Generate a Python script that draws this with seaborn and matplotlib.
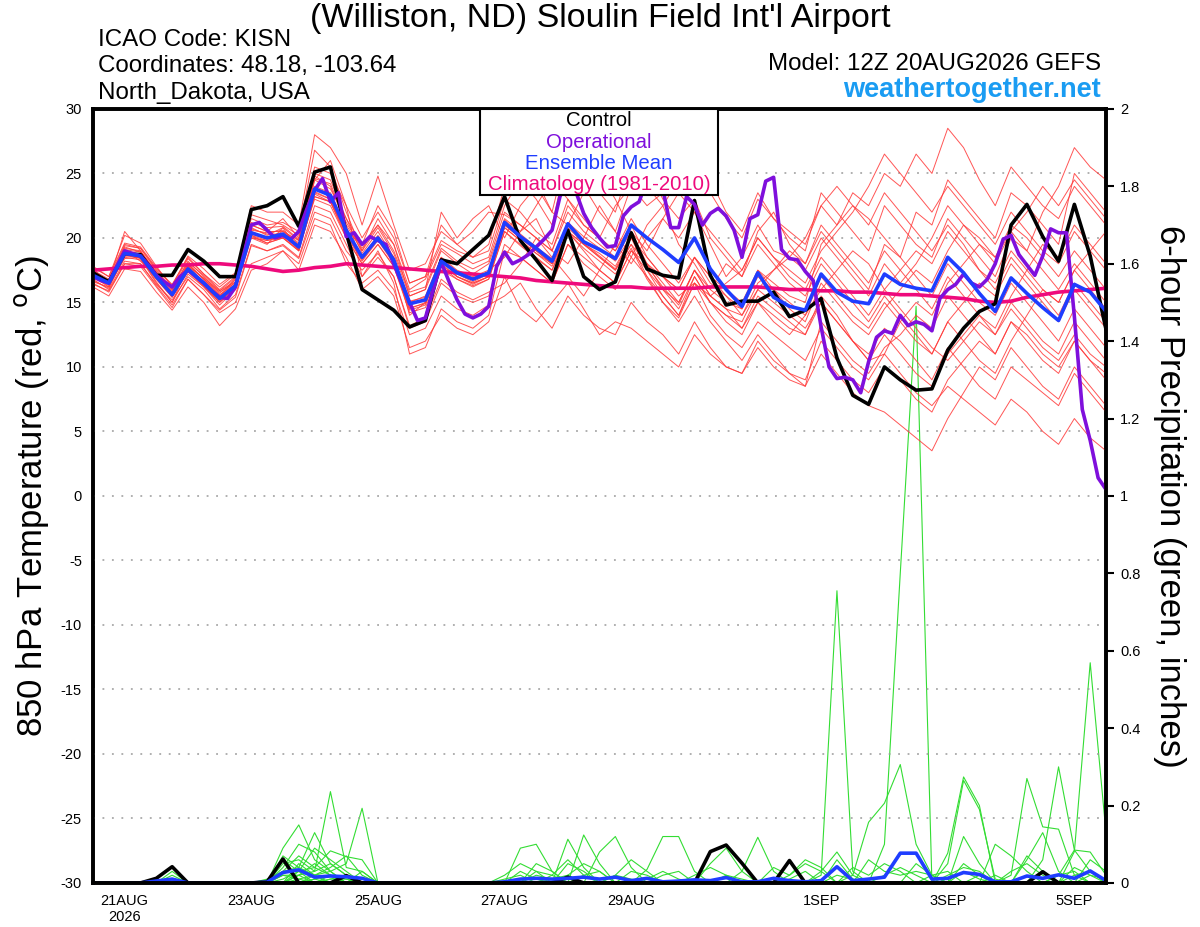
import numpy as np
import pandas as pd
import matplotlib
matplotlib.use("Agg")
import matplotlib.pyplot as plt
import matplotlib.dates as mdates
from matplotlib.patches import Rectangle
import seaborn as sns

# ---------------- data ----------------
run_start = "2026-08-20 12:00"
tick_dates = ["2026-08-21", "2026-08-23", "2026-08-25", "2026-08-27",
              "2026-08-29", "2026-09-01", "2026-09-03", "2026-09-05"]
tick_labels = ["21AUG\n2026", "23AUG", "25AUG", "27AUG", "29AUG", "1SEP", "3SEP", "5SEP"]

control_temp = [17.3, 16.6, 18.8, 18.7, 17.1, 17.1, 19.1, 18.2, 17.0, 17.0, 22.2, 22.5, 23.2,
                20.9, 25.1, 25.5, 20.4, 16.0, 15.2, 14.4, 13.1, 13.6, 18.3, 18.0, 19.1, 20.2,
                23.2, 19.8, 18.3, 16.7, 20.6, 17.0, 16.0, 16.6, 20.4, 17.6, 17.1, 16.9, 22.9,
                17.1, 14.8, 15.1, 15.1, 15.8, 13.9, 14.4, 15.3, 10.7, 7.8, 7.1, 10.0, 9.0,
                8.2, 8.3, 11.3, 13.0, 14.3, 14.9, 21.0, 22.6, 20.1, 18.2, 22.6, 18.6, 12.9]

mean_temp = [17.1, 16.5, 18.8, 18.6, 17.0, 15.6, 17.6, 16.5, 15.3, 16.3, 20.4, 20.0, 20.3,
             19.3, 23.8, 23.3, 20.6, 18.5, 20.0, 18.3, 14.9, 15.2, 18.2, 17.3, 16.8, 17.3,
             21.2, 20.1, 19.2, 18.2, 21.1, 19.7, 19.1, 18.4, 21.0, 20.0, 19.1, 18.1, 20.0,
             17.6, 16.0, 14.7, 17.3, 15.4, 14.7, 14.4, 17.2, 15.8, 15.1, 14.9, 17.2, 16.4,
             16.1, 15.9, 18.5, 17.3, 15.7, 14.3, 16.9, 15.7, 14.6, 13.6, 16.4, 15.8, 14.3]

clim_temp = [17.5, 17.6, 17.7, 17.8, 17.8, 17.9, 17.9, 18.0, 18.0, 17.9, 17.8, 17.6, 17.4,
             17.5, 17.7, 17.8, 18.0, 17.9, 17.8, 17.7, 17.6, 17.5, 17.4, 17.3, 17.2, 17.1,
             17.0, 16.9, 16.7, 16.6, 16.5, 16.4, 16.3, 16.2, 16.2, 16.1, 16.1, 16.1, 16.1,
             16.2, 16.2, 16.2, 16.2, 16.1, 16.0, 16.0, 15.9, 15.9, 15.8, 15.8, 15.7, 15.6,
             15.6, 15.5, 15.4, 15.3, 15.1, 15.0, 15.1, 15.4, 15.6, 15.8, 15.9, 16.0, 16.1]

# operational run, 3-hourly
oper_temp = [17.0, 16.7, 16.5, 17.8, 19.0, 18.8, 18.6, 17.9, 17.1, 16.6, 16.2, 17.0, 17.5,
             17.0, 16.5, 15.9, 15.4, 15.3, 16.2, 18.6, 21.0, 21.2, 20.6, 20.0, 20.2, 19.9,
             20.5, 22.2, 23.7, 24.6, 22.8, 23.5, 20.1, 20.4, 19.5, 20.1, 19.8, 19.5, 18.0,
             16.5, 15.0, 13.6, 13.8, 16.0, 18.1, 16.6, 15.2, 14.1, 13.8, 14.1, 14.7, 17.8,
             18.9, 18.0, 18.3, 18.7, 19.3, 19.9, 20.6, 23.2, 24.5, 23.6, 21.9, 20.8, 20.0,
             19.3, 19.4, 21.7, 22.4, 22.8, 24.5, 25.0, 23.8, 20.8, 20.8, 23.2, 22.6, 21.0,
             21.9, 22.3, 21.7, 20.6, 18.5, 21.5, 21.8, 24.4, 24.7, 19.1, 18.4, 18.3, 17.4,
             16.7, 13.1, 10.0, 9.1, 9.2, 9.0, 8.0, 10.4, 12.3, 12.8, 12.6, 14.0, 13.2,
             13.5, 13.3, 12.8, 15.3, 16.0, 16.4, 17.2, 16.5, 16.2, 16.8, 18.0, 19.9, 20.2,
             18.7, 17.9, 17.1, 18.6, 20.7, 20.4, 20.4, 13.9, 6.7, 4.3, 1.4, 0.5]

member_temps = [
    [17.5,16.8,19.5,19.2,17.6,16.4,18.5,17.2,16.0,17.0,
     21.5,21.0,21.2,20.5,26.8,25.5,22.0,19.0,21.5,19.5,16.0,16.8,19.5,18.8,18.0,18.5,
     22.5,24.5,23.0,21.0,26.5,24.0,22.0,20.5,24.0,25.5,23.0,21.5,23.0,20.0,18.5,17.0,20.5,22.0,19.5,18.0,
     20.5,19.0,17.5,16.0,19.5,18.5,22.0,21.0,24.5,23.0,21.5,20.0,23.5,22.5,21.0,19.5,25.0,23.5,22.0],
    [16.5,15.8,18.0,17.8,16.2,14.6,16.8,15.6,14.2,15.0,
     18.0,18.5,19.0,18.0,21.5,21.0,18.0,16.5,17.5,16.0,12.5,13.0,15.5,14.5,14.0,14.8,
     15.5,16.5,14.5,13.0,15.5,14.0,13.0,12.5,15.0,13.5,12.5,11.0,13.5,11.5,10.0,9.5,12.0,10.5,9.5,9.0,
     12.0,10.5,9.0,8.0,10.0,9.0,7.5,6.5,9.0,10.5,12.0,11.0,13.5,12.5,11.0,10.0,12.0,10.5,9.5],
    [17.0,16.2,19.0,18.4,16.5,15.0,17.8,16.6,15.5,16.8,
     20.0,19.5,20.8,19.0,24.5,23.8,21.5,18.8,20.5,18.5,14.0,15.0,18.5,17.0,16.5,17.0,
     21.0,20.0,19.0,18.0,20.5,19.0,17.5,16.5,19.0,17.5,16.0,15.0,17.5,15.5,14.5,13.0,15.0,14.0,13.0,12.5,
     15.5,14.0,12.0,10.5,11.0,13.5,15.0,14.0,16.5,18.0,19.5,18.5,21.0,20.0,18.5,17.0,19.0,17.5,16.0],
    [17.8,17.0,20.2,19.6,17.8,16.2,18.4,17.2,16.2,17.2,
     22.5,22.0,22.0,21.0,28.0,27.0,25.0,21.0,24.8,21.0,17.5,18.0,20.5,19.5,18.5,19.5,
     24.0,26.0,24.5,22.0,27.0,25.5,23.5,22.0,26.0,24.0,22.5,24.5,27.0,24.5,22.0,20.5,23.5,21.5,20.0,19.0,
     23.5,22.0,20.5,19.0,22.5,21.0,19.5,18.5,21.5,20.0,18.5,17.0,20.0,19.0,22.0,24.0,27.0,25.5,24.5],
    [16.8,16.0,18.2,18.0,16.4,15.2,17.0,16.0,14.5,15.6,
     19.5,19.0,19.5,18.5,22.5,22.0,19.5,17.0,18.5,17.0,13.0,13.5,16.5,15.5,15.0,15.5,
     19.5,18.5,17.5,16.5,19.5,18.0,17.0,16.0,18.5,17.0,15.5,14.0,17.0,15.0,14.0,13.5,16.0,15.0,14.0,13.0,
     15.0,13.5,12.0,11.0,13.0,12.0,10.5,9.0,11.5,10.0,8.5,7.5,10.0,9.0,8.0,7.0,9.5,8.0,6.5],
    [17.2,16.6,20.5,19.0,17.2,15.8,18.0,16.8,15.8,16.5,
     21.0,20.5,21.5,20.0,25.0,24.5,21.5,19.5,21.0,19.5,15.5,16.0,22.0,20.0,21.5,22.5,
     20.0,22.5,24.0,22.0,21.0,23.5,25.0,23.0,20.5,19.0,21.5,23.5,22.0,19.5,17.0,18.5,21.0,19.0,18.5,20.0,
     22.5,24.0,22.5,21.0,23.5,22.0,20.5,19.0,21.0,19.5,17.5,16.0,18.5,17.0,15.5,14.0,16.5,15.0,13.5],
    [16.2,15.5,17.6,17.4,15.8,14.4,16.2,15.0,13.2,14.5,
     17.5,18.0,19.0,17.5,21.0,20.5,18.5,16.0,17.0,15.5,11.5,12.0,14.0,13.0,12.5,13.5,
     17.0,14.5,13.5,15.0,16.5,14.5,12.5,13.5,13.0,12.0,11.0,10.0,12.5,11.0,10.0,9.5,11.5,10.0,9.0,8.5,
     13.5,12.0,10.5,9.5,11.5,12.5,14.0,13.0,15.5,14.0,12.5,11.0,13.5,12.0,10.5,9.5,12.0,10.5,9.0],
    [17.4,16.7,19.2,19.0,17.4,16.0,18.2,17.0,15.7,16.8,
     21.0,20.5,20.5,19.8,24.8,24.0,21.0,19.0,20.8,18.8,15.5,16.0,19.0,18.0,17.2,18.0,
     21.5,20.5,22.5,24.5,23.0,21.0,20.0,22.5,24.0,22.5,23.5,25.5,26.0,23.5,21.5,20.0,23.0,21.5,20.5,19.5,
     22.5,21.0,23.5,22.5,25.0,24.0,26.5,25.0,28.5,27.0,24.5,22.5,25.5,24.0,22.5,21.5,24.0,22.5,21.0],
    [16.6,16.2,18.5,18.3,16.8,15.4,17.4,16.3,15.0,16.0,
     20.0,19.8,20.2,19.2,23.0,22.5,20.0,18.0,19.5,17.8,14.2,14.6,17.5,16.8,16.2,16.8,
     20.5,19.5,18.5,17.5,20.5,19.5,18.5,17.5,19.5,18.0,16.5,15.0,17.5,16.0,18.0,17.0,19.5,18.0,16.5,15.5,
     18.0,16.5,15.0,13.5,15.5,14.0,12.5,11.0,13.5,15.0,16.5,15.5,18.0,16.5,15.0,13.5,16.0,14.5,13.0],
    [17.0,16.4,18.6,18.8,17.0,15.6,17.6,16.4,15.2,16.2,
     20.2,19.8,20.0,19.0,23.2,22.8,20.2,18.2,19.8,18.0,14.5,15.0,18.0,17.0,16.5,17.0,
     21.0,20.0,19.0,18.0,21.0,19.5,18.5,17.5,19.5,17.0,15.0,13.5,15.5,13.5,12.0,10.5,12.5,11.0,9.5,8.5,
     11.0,9.5,8.0,7.0,6.5,5.5,4.5,3.5,6.0,8.0,10.0,9.0,11.5,10.0,8.5,7.5,10.0,8.5,7.0],
    [17.6,16.5,19.0,18.2,17.0,15.8,18.0,16.8,15.6,16.4,
     20.8,20.2,20.8,19.8,24.0,23.5,20.8,18.5,20.2,18.5,15.0,15.5,18.5,17.5,17.0,17.5,
     18.5,20.5,21.5,19.0,18.0,20.0,22.5,20.5,18.5,21.0,22.5,19.5,18.0,16.0,15.0,14.5,17.5,16.5,15.5,15.0,
     19.5,21.0,22.5,21.5,20.0,18.5,17.0,15.5,18.0,16.5,15.0,14.0,16.5,15.0,13.5,12.0,14.5,13.0,11.5],
    [16.9,16.3,18.4,18.5,16.6,15.0,17.2,16.2,14.8,16.0,
     20.5,20.0,20.5,19.5,24.5,26.0,22.5,17.0,19.0,16.5,11.0,11.5,14.5,13.5,13.0,14.0,
     19.0,18.5,17.5,16.5,19.5,18.5,17.5,16.5,19.0,18.0,17.0,16.0,18.5,17.0,16.0,15.0,17.5,16.0,14.5,13.5,
     16.5,15.0,13.5,12.5,14.5,16.0,17.5,16.5,19.0,21.0,20.0,18.5,20.5,19.0,17.5,16.0,18.0,16.5,15.0],
    [17.3,16.6,19.3,18.9,17.3,16.0,17.8,16.9,15.9,16.6,
     20.6,20.4,20.6,19.6,23.5,23.0,20.5,19.5,22.5,20.5,16.5,17.0,21.0,19.5,20.5,22.0,
     21.8,21.0,20.0,19.0,22.0,20.5,19.5,18.5,20.5,18.0,16.0,14.5,17.0,15.0,14.0,13.0,15.5,14.5,13.5,12.5,
     15.0,13.5,12.0,10.5,12.5,11.0,9.5,8.5,11.0,12.5,14.0,13.0,15.5,17.5,19.5,18.5,21.0,19.5,18.0],
    [16.4,15.9,18.0,18.0,16.3,14.8,16.8,15.6,14.4,15.4,
     19.4,19.0,19.4,18.4,22.0,21.5,19.0,17.5,18.8,17.0,13.2,13.8,16.8,15.8,15.2,15.8,
     16.5,18.0,20.0,18.5,17.0,15.5,17.5,19.5,18.0,20.0,21.5,20.0,22.0,20.5,19.0,17.5,20.0,18.5,17.0,16.0,
     18.5,17.0,15.5,14.0,16.0,17.5,19.0,18.0,20.5,19.0,17.5,16.5,19.0,17.5,16.0,15.0,17.5,19.0,20.5],
    [17.7,17.0,19.6,19.3,17.7,16.3,18.6,17.6,16.4,17.3,
     21.8,21.4,21.0,20.2,25.5,25.0,22.5,20.0,22.0,20.0,16.5,17.0,19.8,19.0,18.5,19.0,
     23.0,22.0,20.5,19.5,23.0,21.5,20.0,19.0,21.5,19.5,18.0,16.5,18.5,17.0,15.5,14.0,16.0,17.5,19.0,18.0,
     21.0,19.5,18.0,16.5,19.0,17.5,16.0,14.5,17.0,15.5,14.0,12.5,15.0,13.5,12.0,11.0,13.5,12.0,10.5],
    [16.7,16.1,18.7,18.4,16.9,15.5,17.5,16.3,15.1,16.1,
     20.1,19.6,20.0,19.1,23.4,22.8,20.4,18.4,20.0,18.2,14.8,15.2,18.2,17.2,16.6,17.2,
     20.8,19.8,18.8,18.0,20.8,19.6,18.6,17.6,20.0,18.5,17.0,15.5,16.5,14.0,12.5,11.5,13.5,12.5,11.5,10.5,
     13.0,11.5,10.0,9.0,11.0,9.5,8.0,7.0,8.5,7.5,6.5,5.5,7.5,6.5,5.0,4.0,6.0,4.5,3.5],
    [17.1,16.4,18.9,18.7,17.1,15.7,17.7,16.6,15.4,16.4,
     20.3,19.9,20.1,19.2,23.6,23.0,20.3,18.3,19.9,18.1,14.6,14.9,17.9,17.0,16.4,17.0,
     20.8,19.8,18.8,17.8,20.5,19.5,18.8,17.8,20.0,17.5,15.5,14.0,16.5,15.5,16.5,17.5,20.0,18.5,17.5,16.5,
     19.0,20.5,22.0,24.0,26.5,25.0,23.5,22.0,24.0,22.5,21.0,19.5,22.0,20.5,19.0,18.0,20.5,19.0,17.5],
    [16.9,16.5,19.1,18.9,17.2,15.9,17.9,16.8,15.5,16.6,
     20.7,20.3,20.3,19.3,23.9,23.4,20.6,18.6,20.1,18.4,15.1,15.4,18.4,17.4,16.9,17.4,
     21.4,20.3,19.3,18.4,21.2,20.1,19.2,18.2,20.1,17.8,16.2,14.8,17.5,15.5,14.5,14.0,16.5,17.5,18.5,17.5,
     20.0,18.5,17.0,15.5,18.0,16.5,18.0,20.0,22.5,21.0,19.5,18.0,20.5,22.0,24.0,22.5,24.5,23.0,21.5],
    [17.4,16.6,18.6,18.5,16.8,15.4,17.4,16.2,15.0,16.2,
     20.2,19.6,20.0,19.0,23.2,22.8,20.0,18.0,19.5,17.8,14.4,14.8,17.8,16.8,16.3,16.8,
     20.5,19.4,18.4,17.5,20.4,19.2,18.2,17.2,19.2,16.8,15.0,13.8,16.5,15.0,13.5,12.5,15.0,13.5,12.5,14.0,
     16.0,17.5,19.0,18.0,16.0,14.5,13.0,11.5,10.5,12.0,13.5,12.5,14.5,13.0,11.5,10.5,12.5,11.0,10.0],
    [17.0,16.5,19.4,19.2,17.5,16.1,18.1,17.1,15.9,16.9,
     21.2,20.8,20.9,19.9,24.6,24.2,21.2,19.2,21.0,19.0,15.8,16.2,19.2,18.2,17.6,18.2,
     22.0,21.0,20.0,19.0,22.5,21.0,20.0,19.0,21.0,18.5,17.0,16.0,18.5,16.5,15.5,14.5,17.0,16.0,15.0,14.0,
     17.0,15.5,14.0,13.0,15.0,13.5,12.0,11.0,13.5,12.0,10.5,9.5,12.0,14.0,16.0,15.0,17.5,16.0,14.5],
]

control_precip = [0, 0, 0, 0, .012, .042, 0, 0, 0, 0, 0, .003, .062,
                  0, 0, 0, .019, 0, 0, 0, 0, 0, 0, 0, 0, 0,
                  0, 0, 0, 0, .015, 0, 0, 0, 0, 0, 0, 0, 0,
                  .081, .098, .051, 0, 0, .058, 0, 0, 0, 0, 0, 0, 0,
                  0, 0, 0, 0, 0, 0, 0, 0, .029, 0, 0, 0, 0]

mean_precip = [0, 0, 0, 0, .005, .01, 0, 0, 0, 0, 0, .002, .027,
               .034, .015, .018, .016, .012, 0, 0, 0, 0, 0, 0, 0, 0,
               .003, .01, .012, .01, .012, .015, .01, .015, .006, .012, .003, .005, .008,
               .006, .014, .003, .003, .012, .006, .003, .006, .042, .006, .01, .015, .077,
               .077, .01, .012, .027, .022, .003, .003, .018, .012, .021, .012, .031, .006]

member_precip = [
    [0,0,0,0,0,.03,0,0,0,0,0,0,.09,  .15,.06,.03,0,0,0,0,0,0,0,0,0,0,
     0,0,.05,.03,0,0,0,0,0,0,0,0,0,  0,0,0,0,0,0,0,.02,.755,.03,0,0,0,
     0,0,0,.05,.02,0,0,0,0,0,.02,.03,0],
    [0,0,0,0,0,.02,0,0,0,0,0,0,.07,  .04,.13,.05,.02,0,0,0,0,0,0,0,0,0,
     0,.09,.10,.03,0,0,0,0,0,0,0,0,0,  0,0,0,0,0,0,0,0,0,0,0,.10,.80,
     1.49,0,0,0,0,0,.02,.27,.145,.139,.02,0,0],
    [0,0,0,0,0,0,0,0,0,0,0,0,.05,  .06,.03,.236,.04,.03,0,0,0,0,0,0,0,0,
     0,0,0,0,.05,.03,0,0,0,0,0,0,0,  0,0,0,0,0,0,0,0,0,.02,.157,.206,.306,
     .10,.02,0,0,.02,0,0,0,0,0,0,0,0],
    [0,0,0,0,0,0,0,0,0,0,0,0,.04,  .10,.08,.03,.05,.193,0,0,0,0,0,0,0,0,
     0,0,0,0,.113,.04,0,0,.03,.02,0,0,0,  0,0,0,0,0,0,0,0,0,0,0,0,0,
     0,0,.077,.274,.20,0,0,0,0,0,0,0,0],
    [0,0,0,0,0,0,0,0,0,0,0,.01,.03,  .07,.04,.083,.068,.06,0,0,0,0,0,0,0,0,
     0,0,0,0,0,0,.08,.12,.04,0,0,0,0,  0,0,0,0,0,0,0,0,0,0,0,0,0,
     0,0,0,0,0,0,0,0,.06,.30,.085,.03,0],
    [0,0,0,0,0,0,0,0,0,0,0,0,.06,  .03,.09,.06,.03,0,0,0,0,0,0,0,0,0,
     .02,.05,.03,0,0,.124,.05,0,0,0,0,0,0,  0,0,0,0,0,0,0,0,0,0,0,0,0,
     0,0,0,0,0,0,0,0,0,0,.081,.569,.128],
    [0,0,0,0,0,0,0,0,0,0,0,0,0,  .05,.02,.04,.07,.02,0,0,0,0,0,0,0,0,
     0,0,0,0,0,0,0,0,0,.035,.12,.12,.03,  0,0,0,0,0,.02,.05,.03,0,0,0,0,0,
     .05,.02,0,0,0,0,0,.07,.03,0,0,0,0],
    [0,0,0,0,0,0,0,0,0,0,0,0,.02,  .02,.05,.02,0,0,0,0,0,0,0,0,0,0,
     0,0,0,.02,.06,.02,0,0,0,0,0,0,0,  0,0,.03,.118,.03,0,0,0,.06,.01,0,0,0,
     0,0,0,.12,.05,0,0,0,0,0,0,.06,.03],
    [0,0,0,0,0,0,0,0,0,0,0,0,0,  .03,.04,.02,.01,0,0,0,0,0,0,0,0,0,
     0,0,0,0,0,0,0,.02,.06,.03,0,0,0,  0,0,0,0,0,0,0,.03,.08,.02,0,0,0,
     0,0,.05,.265,.19,.01,0,0,0,0,0,0,0],
    [0,0,0,0,0,0,0,0,0,0,0,0,.03,  .04,.02,0,0,.03,0,0,0,0,0,0,0,0,
     0,0,.03,.02,0,0,0,0,0,0,0,0,0,  .05,.09,.03,0,0,0,0,0,0,0,0,0,0,
     0,0,0,0,0,.10,.07,.03,0,.02,.085,.08,.02],
    [0,0,0,0,0,0,0,0,0,0,0,0,0,  .02,.03,.05,.02,0,0,0,0,0,0,0,0,0,
     0,.03,.01,0,0,0,0,0,0,0,.02,.03,0,  0,0,0,0,0,0,0,0,0,0,.06,.03,.02,
     .03,.02,0,0,0,0,0,0,0,0,0,0,0],
    [0,0,0,0,0,0,0,0,0,0,0,0,.01,  .03,0,.02,0,0,0,0,0,0,0,0,0,0,
     0,0,0,0,0,.02,.03,0,0,0,0,0,0,  0,0,0,0,.04,.02,.06,.04,0,0,0,0,0,
     0,0,0,0,0,0,0,.06,.13,.03,0,0,0],
    [0,0,0,0,0,0,0,0,0,0,0,0,0,  0,.02,.03,0,0,0,0,0,0,0,0,0,0,
     0,0,0,0,.02,.05,.03,0,0,0,0,0,0,  0,0,0,0,0,0,0,0,0,.04,.02,.05,.03,
     0,0,0,0,0,0,.03,.05,.02,0,.04,.02,0],
    [0,0,0,0,0,0,0,0,0,0,0,0,0,  .01,.02,0,0,0,0,0,0,0,0,0,0,0,
     0,0,0,.01,.02,0,0,0,0,0,0,0,.02,  .04,.02,0,0,0,0,0,0,0,0,0,0,0,
     0,0,.02,.04,.03,0,0,0,0,0,0,0,0],
    [0,0,0,0,0,0,0,0,0,0,0,0,0,  0,0,.01,.02,0,0,0,0,0,0,0,0,0,
     0,0,0,0,0,0,0,.02,.01,0,0,0,0,  0,0,0,0,0,0,0,0,.02,.01,0,0,0,
     0,0,0,0,0,0,0,0,0,.02,.03,0,0],
    [0,0,0,0,0,0,0,0,0,0,0,0,.02,  .01,0,0,0,0,0,0,0,0,0,0,0,0,
     0,0,0,0,0,0,0,0,0,.01,.03,.01,0,  0,0,0,0,0,0,0,0,0,0,0,.02,.04,
     .02,0,0,0,0,0,0,0,0,0,0,0,0],
    [0,0,0,0,0,0,0,0,0,0,0,0,0,  0,.01,.02,0,0,0,0,0,0,0,0,0,0,
     0,0,.02,.01,0,0,0,0,0,0,0,0,0,  0,0,0,0,0,.01,.03,0,0,0,0,0,0,
     0,0,0,0,0,0,0,0,0,0,0,.02,.01],
    [0,0,0,0,0,0,0,0,0,0,0,0,0,  .02,0,0,0,0,0,0,0,0,0,0,0,0,
     .01,.02,0,0,0,0,0,0,0,0,0,0,0,  0,0,0,0,0,0,0,0,0,0,0,0,0,
     0,0,0,.03,.01,0,0,0,0,0,0,0,0],
    [0,0,0,0,0,.01,0,0,0,0,0,0,0,  0,.01,0,0,0,0,0,0,0,0,0,0,0,
     0,0,0,0,0,0,0,0,0,0,0,0,0,  0,.02,.01,0,0,0,0,0,0,0,0,0,0,
     0,0,0,0,0,.02,0,0,0,0,0,0,0],
    [0,0,0,0,0,0,0,0,0,0,0,0,0,  0,0,.01,.01,0,0,0,0,0,0,0,0,0,
     0,0,0,0,0,0,0,0,0,0,0,0,0,  0,0,0,0,0,0,0,0,0,0,0,0,0,
     0,.02,.03,0,0,0,0,0,0,0,0,0,0],
]

# ---------------- tables ----------------
times6 = pd.date_range(run_start, periods=len(control_temp), freq="6h")
times3 = pd.date_range(run_start, periods=len(oper_temp), freq="3h")

df_mem = pd.concat([pd.DataFrame({"time": times6, "temp": v, "member": k})
                    for k, v in enumerate(member_temps)], ignore_index=True)
df_pmem = pd.concat([pd.DataFrame({"time": times6, "precip": v, "member": k})
                     for k, v in enumerate(member_precip)], ignore_index=True)
df_main = pd.DataFrame({"time": times6, "control": control_temp, "mean": mean_temp,
                        "clim": clim_temp, "pc": control_precip, "pm": mean_precip})
df_oper = pd.DataFrame({"time": times3, "oper": oper_temp})

# ---------------- figure ----------------
sns.set_theme(style="white")
plt.rcParams["font.family"] = ["Liberation Sans", "DejaVu Sans"]
plt.rcParams["text.color"] = "black"
plt.rcParams["axes.labelcolor"] = "black"
plt.rcParams["xtick.color"] = "black"
plt.rcParams["ytick.color"] = "black"

RED = "#ff3838"
GREEN = "#33dd33"
PURPLE = "#7f0fdc"
BLUE = "#1f3dff"
PINK = "#ee0a7c"

fig = plt.figure(figsize=(12, 9.27), dpi=100)
ax = fig.add_axes([0.0775, 0.0475, 0.8442, 0.8350])
ax2 = ax.twinx()
ax.set_zorder(2)
ax2.set_zorder(1)
ax.patch.set_visible(False)

# precipitation (right axis)
sns.lineplot(data=df_pmem, x="time", y="precip", units="member", estimator=None,
             color=GREEN, linewidth=0.8, ax=ax2, legend=False)
sns.lineplot(data=df_main, x="time", y="pc", color="black", linewidth=2.6, ax=ax2)
sns.lineplot(data=df_main, x="time", y="pm", color=BLUE, linewidth=2.6, ax=ax2)

# temperature (left axis)
sns.lineplot(data=df_mem, x="time", y="temp", units="member", estimator=None,
             color=RED, linewidth=0.7, alpha=0.85, ax=ax, legend=False)
sns.lineplot(data=df_main, x="time", y="clim", color=PINK, linewidth=2.6, ax=ax)
sns.lineplot(data=df_main, x="time", y="control", color="black", linewidth=2.6, ax=ax)
sns.lineplot(data=df_oper, x="time", y="oper", color=PURPLE, linewidth=2.6, ax=ax)
sns.lineplot(data=df_main, x="time", y="mean", color=BLUE, linewidth=2.6, ax=ax)

# axes setup
x0 = mdates.date2num(pd.Timestamp(run_start))
x1 = mdates.date2num(times6[-1])
ax.set_xlim(x0, x1)
ax.set_ylim(-30, 30)
ax2.set_ylim(0, 2)
ax.set_yticks(range(-30, 31, 5))
ax.set_yticklabels([str(v) for v in range(-30, 31, 5)])
ax2.set_yticks([i * 0.2 for i in range(11)])
ax2.set_yticklabels(["0", "0.2", "0.4", "0.6", "0.8", "1", "1.2", "1.4", "1.6", "1.8", "2"])
ax.set_xticks(mdates.date2num(pd.to_datetime(tick_dates)))
ax.set_xticklabels(tick_labels)
ax.set_xlabel("")
ax2.set_xlabel("")

for y in range(-25, 30, 5):
    ax.axhline(y, color="#9a9a9a", linestyle=(0, (1.2, 5)), linewidth=1.1, zorder=0)

for a in (ax, ax2):
    for s in a.spines.values():
        s.set_color("black")
        s.set_linewidth(2.6)
ax.tick_params(axis="both", which="major", direction="out", length=5, width=1.5,
               labelsize=10.5, colors="black", pad=3)
ax.tick_params(axis="y", length=0, pad=8)
ax2.tick_params(axis="y", direction="out", length=6, width=1.5, labelsize=10.5, pad=4,
                colors="black")

ax.set_ylabel("850 hPa Temperature (red, $^{\\mathrm{o}}$C)", fontsize=25, labelpad=7)
ax2.set_ylabel("6-hour Precipitation (green, inches)", fontsize=25, rotation=270,
               labelpad=33)

# legend box
ax.add_patch(Rectangle((0.382, 0.889), 0.235, 0.111, transform=ax.transAxes,
                       facecolor="white", edgecolor="black", linewidth=1.5, zorder=10))
leg_items = [("Control", "black", 0.9845), ("Operational", PURPLE, 0.957),
             ("Ensemble Mean", BLUE, 0.930), ("Climatology (1981-2010)", PINK, 0.902)]
for txt, col, yy in leg_items:
    ax.text(0.4995, yy, txt, color=col, fontsize=14.7, ha="center", va="center",
            transform=ax.transAxes, zorder=11)

# header texts
fig.text(0.5, 1 - 18 / 927, "(Williston, ND) Sloulin Field Int'l Airport",
         ha="center", va="center", fontsize=24.5)
fig.text(98 / 1200, 1 - 40 / 927, "ICAO Code: KISN", ha="left", va="center", fontsize=17.4)
fig.text(98 / 1200, 1 - 66 / 927, "Coordinates: 48.18, -103.64", ha="left", va="center", fontsize=17.4)
fig.text(98 / 1200, 1 - 93 / 927, "North_Dakota, USA", ha="left", va="center", fontsize=17.4)
fig.text(1101 / 1200, 1 - 64 / 927, "Model: 12Z 20AUG2026 GEFS", ha="right", va="center", fontsize=17.4)
fig.text(1101 / 1200, 1 - 90 / 927, "weathertogether.net", ha="right", va="center",
         fontsize=19.5, fontweight="bold", color="#1a9cf2")

fig.savefig("out.png", dpi=100, facecolor="white")
